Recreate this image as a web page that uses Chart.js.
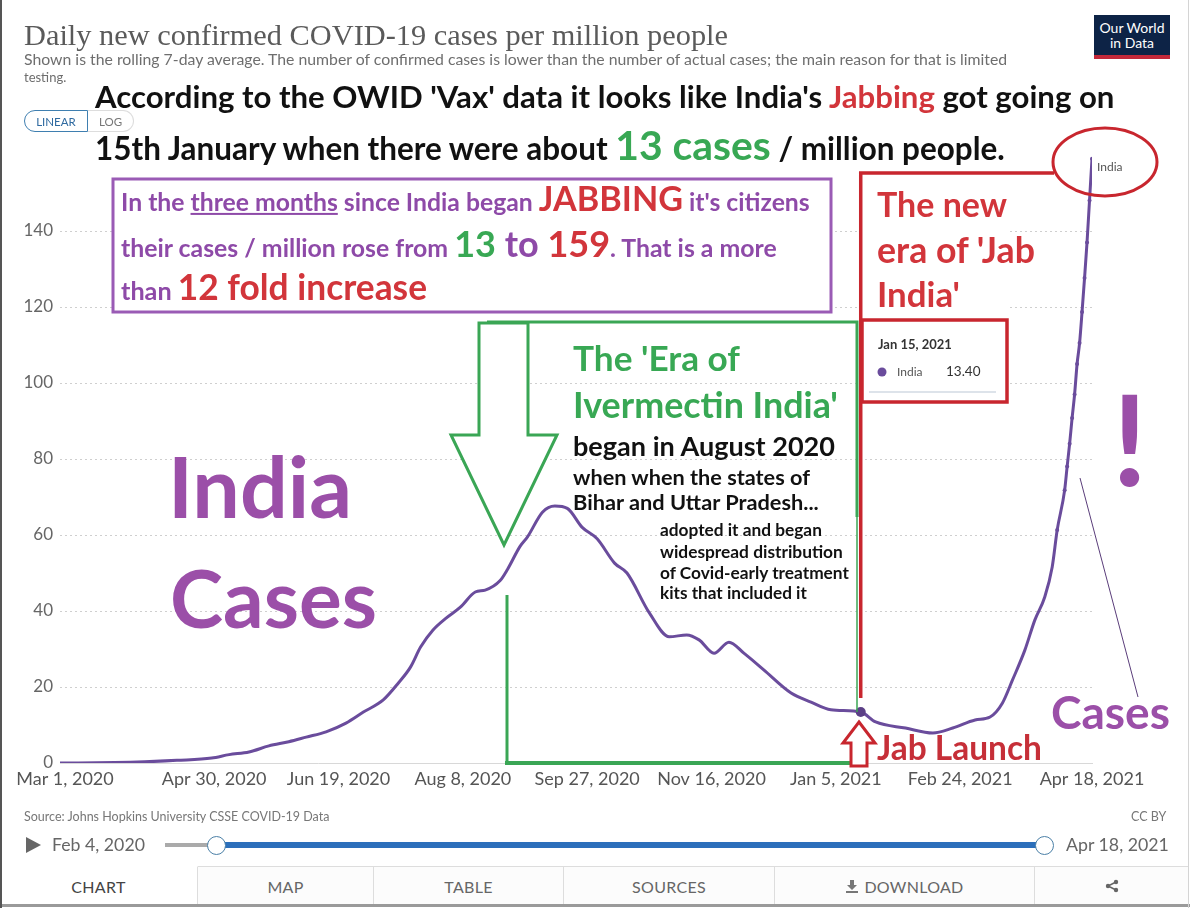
<!DOCTYPE html>
<html>
<head>
<meta charset="utf-8">
<script src="https://cdn.jsdelivr.net/npm/chart.js@4.4.1/dist/chart.umd.min.js"></script>
<style>
  body { margin: 0; background: #fff; }
  #page { position: relative; width: 1200px; height: 908px; overflow: hidden; background: #fff; font-family: Lato, "Open Sans", sans-serif; }
  #c { position: absolute; left: 0; top: 0; }
  .t { position: absolute; white-space: nowrap; line-height: 1; font-weight: 700; }
  .p { color: #8e4aa8; }
  .r { color: #d2353b; }
  .g { color: #38a854; }
  .k { color: #111; }
  .tab { position: absolute; top: 866px; height: 39px; border-top: 1px solid #ddd; border-right: 1px solid #ddd;
         display: flex; align-items: center; justify-content: center; font-size: 16px; color: #666; letter-spacing: 0.3px; box-sizing: border-box; background: #fcfcfc; }
</style>
</head>
<body>
<div id="page">
  <canvas id="c" width="1200" height="908" style="width:1200px;height:908px"></canvas>

  <!-- OWID header -->
  <div class="t" data-x="24" data-y="35" data-w="704" style="font-family:'Liberation Serif',serif;font-weight:400;color:#5a5a5a;font-size:28px">Daily new confirmed COVID-19 cases per million people</div>
  <div class="t" data-x="24" data-y="59" data-w="984" style="font-weight:400;color:#6e6e6e;font-size:13px">Shown is the rolling 7-day average. The number of confirmed cases is lower than the number of actual cases; the main reason for that is limited</div>
  <div class="t" data-x="24" data-y="77" style="font-weight:400;color:#6e6e6e;font-size:13px">testing.</div>
  <div style="position:absolute;left:1094px;top:15px;width:76px;height:44px;background:#0d2346;border-bottom:4px solid #c3283a;box-sizing:border-box;color:#fff;font-size:14px;line-height:15px;text-align:center;padding-top:5px">Our World<br>in Data</div>

  <div style="position:absolute;left:24px;top:110px;width:64px;height:22px;border:1.5px solid #3f7fb0;border-radius:11px 0 0 11px;box-sizing:border-box;color:#2f6aa0;font-size:11.5px;display:flex;align-items:center;justify-content:center">LINEAR</div>
  <div style="position:absolute;left:88px;top:110px;width:46px;height:22px;border:1px solid #ddd;border-left:none;border-radius:0 11px 11px 0;box-sizing:border-box;color:#777;font-size:11.5px;display:flex;align-items:center;justify-content:center">LOG</div>

  <!-- headline annotation -->
  <div class="t k" data-x="95" data-y="97" data-w="1020">According to the OWID 'Vax' data it looks like India's <span class="r">Jabbing</span> got going on</div>
  <div class="t k" data-x="95" data-y="145" data-w="910">15th January when there were about <span class="g" style="font-size:1.3em">13 cases</span> / million people.</div>

  <!-- purple box text -->
  <div class="t p" data-x="121" data-y="198" data-w="689">In the <u>three months</u> since India began <span class="r" style="font-size:1.38em">JABBING</span> it's citizens</div>
  <div class="t p" data-x="121" data-y="243" data-w="656">their cases / million rose from <span class="g" style="font-size:1.45em">13</span><span style="font-size:1.45em"> to </span><span class="r" style="font-size:1.45em">159</span>. That is a more</div>
  <div class="t p" data-x="121" data-y="287" data-w="306">than <span class="r" style="font-size:1.4em">12 fold increase</span></div>

  <!-- green era text -->
  <div class="t g" data-x="573" data-y="358" data-w="167">The 'Era of</div>
  <div class="t g" data-x="573" data-y="405" data-w="265">Ivermectin India'</div>
  <div class="t k" data-x="573" data-y="446" data-w="262">began in August 2020</div>
  <div class="t k" data-x="573" data-y="478" data-w="237">when when the states of</div>
  <div class="t k" data-x="573" data-y="503" data-w="246">Bihar and Uttar Pradesh...</div>
  <div class="t k" data-x="660" data-y="530" data-w="162">adopted it and began</div>
  <div class="t k" data-x="660" data-y="552" data-w="183">widespread distribution</div>
  <div class="t k" data-x="660" data-y="573" data-w="189">of Covid-early treatment</div>
  <div class="t k" data-x="660" data-y="593" data-w="147">kits that included it</div>

  <!-- red jab text -->
  <div class="t r" data-x="877" data-y="204" data-w="130">The new</div>
  <div class="t r" data-x="877" data-y="250" data-w="158">era of 'Jab</div>
  <div class="t r" data-x="877" data-y="294" data-w="83">India'</div>
  <div class="t" data-x="878" data-y="344" style="font-size:13px;color:#333">Jan 15, 2021</div>
  <div class="t" data-x="897" data-y="372" style="font-size:12px;font-weight:400;color:#555">India</div>
  <div class="t" data-x="946" data-y="372" style="font-size:13.5px;font-weight:400;color:#333">13.40</div>
  <div class="t r" data-x="877" data-y="748" data-w="165" style="color:#c62f38">Jab Launch</div>

  <!-- purple labels -->
  <div class="t p" data-x="168" data-y="486" data-w="184" style="color:#9b4fa8">India</div>
  <div class="t p" data-x="170" data-y="597" data-w="207" style="color:#9b4fa8">Cases</div>
  <div class="t p" data-x="1112" data-y="438" style="color:#9b4fa8;font-size:126px">!</div>
  <div class="t p" data-x="1051" data-y="712" data-w="119" style="color:#9b4fa8">Cases</div>

  <!-- footer -->
  <div class="t" data-x="24" data-y="817" style="font-size:12.5px;font-weight:400;color:#777">Source: Johns Hopkins University CSSE COVID-19 Data</div>
  <div class="t" data-x="1131" data-y="817" style="font-size:12.5px;font-weight:400;color:#777">CC BY</div>
  <div style="position:absolute;left:26px;top:837px;width:0;height:0;border-top:8px solid transparent;border-bottom:8px solid transparent;border-left:15px solid #666"></div>
  <div class="t" data-x="52" data-y="845" data-w="93" style="font-weight:400;color:#666;font-size:18px">Feb 4, 2020</div>
  <div style="position:absolute;left:165px;top:843px;width:52px;height:4px;background:#aaa"></div>
  <div style="position:absolute;left:217px;top:842px;width:827px;height:6px;background:#2c6fbb"></div>
  <div style="position:absolute;left:207px;top:836px;width:17px;height:17px;border-radius:50%;background:#fff;border:1.5px solid #4a7fa6"></div>
  <div style="position:absolute;left:1035px;top:836px;width:17px;height:17px;border-radius:50%;background:#fff;border:1.5px solid #4a7fa6"></div>
  <div class="t" data-x="1066" data-y="845" data-w="103" style="font-weight:400;color:#666;font-size:18px">Apr 18, 2021</div>

  <div class="tab" style="left:0;width:198px;border-top-color:transparent;background:#fff;color:#444">CHART</div>
  <div class="tab" style="left:198px;width:176px">MAP</div>
  <div class="tab" style="left:374px;width:190px">TABLE</div>
  <div class="tab" style="left:564px;width:211px">SOURCES</div>
  <div class="tab" style="left:775px;width:260px"><svg width="14" height="14" viewBox="0 0 14 14" style="margin-right:5px"><path d="M5 1h4v5h3l-5 5-5-5h3z" fill="#777"/><rect x="1" y="12" width="12" height="2" fill="#777"/></svg>DOWNLOAD</div>
  <div class="tab" style="left:1035px;width:154px"><svg width="14" height="14" viewBox="0 0 14 14"><circle cx="11" cy="3" r="2.2" fill="#666"/><circle cx="3" cy="7" r="2.2" fill="#666"/><circle cx="11" cy="11" r="2.2" fill="#666"/><path d="M11 3L3 7l8 4" stroke="#666" stroke-width="1.5" fill="none"/></svg></div>
  <div style="position:absolute;left:0;top:904px;width:1190px;height:3px;background:#9a9a9a"></div>
  <div style="position:absolute;left:0;top:0;width:2px;height:908px;background:#555"></div>
  <div style="position:absolute;left:1188px;top:0;width:1px;height:908px;background:#d4d4d4"></div>
</div>

<script>
// rolling 7-day average, India, new confirmed cases per million
const dates = [
  '2020-02-28','2020-03-21','2020-04-02','2020-04-15','2020-04-29','2020-05-06','2020-05-14','2020-05-22',
  '2020-05-30','2020-06-06','2020-06-14','2020-06-22','2020-06-29','2020-07-07','2020-07-13','2020-07-18',
  '2020-07-22','2020-07-27','2020-08-01','2020-08-07','2020-08-13','2020-08-17','2020-08-23','2020-08-26',
  '2020-08-31','2020-09-03','2020-09-09','2020-09-14','2020-09-19','2020-09-25','2020-10-01','2020-10-08',
  '2020-10-13','2020-10-22','2020-10-30','2020-11-06','2020-11-11','2020-11-17','2020-11-23','2020-11-29',
  '2020-12-07','2020-12-18','2020-12-26','2021-01-03','2021-01-15','2021-01-21','2021-02-02','2021-02-13',
  '2021-02-21','2021-03-02','2021-03-08','2021-03-13','2021-03-17','2021-03-22','2021-03-26','2021-03-30',
  '2021-04-02','2021-04-04','2021-04-07','2021-04-08','2021-04-09','2021-04-10','2021-04-11','2021-04-12',
  '2021-04-13','2021-04-14','2021-04-15','2021-04-16','2021-04-17','2021-04-18'
];
const cases = [
  0, 0.1, 0.3, 0.7, 1.3, 2.2, 2.9, 4.5,
  5.6, 6.8, 8.2, 10.5, 13.4, 16.6, 21, 25.3,
  30.5, 35, 38, 41, 45, 45.5, 48, 51,
  57, 59.5, 66, 67.6, 67, 62, 59, 52.6,
  50, 39.5, 33.2, 33.7, 32.4, 28.9, 31.8, 28.9,
  24.5, 18.4, 16, 14, 13.4, 10.8, 9.2, 7.9,
  9.2, 11.3, 12.1, 15.8, 21.8, 29.7, 37.6, 43.7,
  51.6, 61.3, 71.8, 78, 84, 90.8, 97, 105,
  110.5, 118.7, 127.6, 137, 148, 159
];
const tickDates = ['2020-03-01','2020-04-30','2020-06-19','2020-08-08','2020-09-27','2020-11-16','2021-01-05','2021-02-24','2021-04-18'];
const tickLabels = ['Mar 1, 2020','Apr 30, 2020','Jun 19, 2020','Aug 8, 2020','Sep 27, 2020','Nov 16, 2020','Jan 5, 2021','Feb 24, 2021','Apr 18, 2021'];
const yTicks = [0, 20, 40, 60, 80, 100, 120, 140];
const jabDate = '2021-01-15';

const dayOf = d => Math.round((Date.parse(d) - Date.parse('2020-03-01')) / 864e5);
const points = dates.map((d, i) => ({ x: dayOf(d), y: cases[i] }));
const tickDays = tickDates.map(dayOf);
const jabDay = dayOf(jabDate);
const lastDay = dayOf(dates[dates.length - 1]);

function stroke(c, pts, close) {
  c.beginPath();
  pts.forEach((p, i) => i ? c.lineTo(p[0], p[1]) : c.moveTo(p[0], p[1]));
  if (close) c.closePath();
}

// dotted horizontal grid, and the white pasted-over panels
const backdrop = {
  id: 'backdrop',
  beforeDatasetsDraw(chart) {
    const c = chart.ctx, ys = chart.scales.y, a = chart.chartArea;
    c.save();
    c.strokeStyle = '#cfcfcf'; c.lineWidth = 1; c.setLineDash([2, 3]);
    yTicks.slice(1).forEach(v => {
      const y = Math.round(ys.getPixelForValue(v)) + 0.5;
      stroke(c, [[a.left, y], [a.right, y]]); c.stroke();
    });
    c.setLineDash([]);
    c.fillStyle = '#fff';
    c.fillRect(113, 179, 718, 133);
    c.fillRect(864, 176, 144, 142);
    c.restore();
  }
};

const annotations = {
  id: 'annotations',
  afterDatasetsDraw(chart) {
    const c = chart.ctx, xs = chart.scales.x, ys = chart.scales.y;
    c.save();
    c.lineJoin = 'miter';

    // purple box
    c.strokeStyle = '#9a5bb5'; c.lineWidth = 3;
    c.strokeRect(113, 179, 718, 133);

    // green frame + arrow
    c.strokeStyle = '#3aa655'; c.lineWidth = 3;
    stroke(c, [[487, 322], [857, 322], [857, 517]]); c.stroke();
    c.lineWidth = 1.5; stroke(c, [[857, 517], [857, 712]]); c.stroke();
    c.lineWidth = 4; stroke(c, [[505, 763], [852, 763]]); c.stroke();
    c.lineWidth = 3; stroke(c, [[507, 595], [507, 763]]); c.stroke();
    stroke(c, [[479, 323], [528, 323], [528, 435], [557, 435], [504, 545], [451, 435], [479, 435]], true);
    c.fillStyle = '#fff'; c.fill(); c.stroke();

    // red jab era lines
    const jx = xs.getPixelForValue(jabDay);
    c.strokeStyle = '#c8262e'; c.lineWidth = 3.5;
    stroke(c, [[jx, 698], [jx, 173], [1054, 173]]); c.stroke();
    c.lineWidth = 3;
    c.beginPath(); c.ellipse(1105, 162, 52, 34, 0, 0, Math.PI * 2); c.stroke();

    // tooltip box
    c.fillStyle = '#fff'; c.fillRect(863, 321, 143, 80);
    c.strokeStyle = '#dde3ea'; c.lineWidth = 2;
    stroke(c, [[869, 392], [996, 392]]); c.stroke();
    c.fillStyle = '#6a4c9c';
    c.beginPath(); c.arc(882, 372, 4.5, 0, Math.PI * 2); c.fill();
    c.strokeStyle = '#c8262e'; c.lineWidth = 3.5;
    c.strokeRect(862, 320, 145, 82);

    // jab launch arrow
    c.lineWidth = 3;
    stroke(c, [[859, 722], [875, 743], [867, 743], [867, 766], [851, 766], [851, 743], [843, 743]], true);
    c.fillStyle = '#fff'; c.fill(); c.stroke();

    // pointer to the end of the series
    c.strokeStyle = '#5a3d7a'; c.lineWidth = 1;
    stroke(c, [[1080, 478], [1138, 697]]); c.stroke();

    // series label
    const lx = xs.getPixelForValue(lastDay), ly = ys.getPixelForValue(cases[cases.length - 1]);
    c.fillStyle = '#555'; c.font = '12px Lato'; c.textBaseline = 'middle';
    c.fillText('India', lx + 5, ly + 8);
    c.restore();
  }
};

new Chart(document.getElementById('c'), {
  type: 'line',
  data: {
    datasets: [{
      label: 'India',
      data: points,
      borderColor: '#6a4c9c',
      backgroundColor: '#6a4c9c',
      borderWidth: 3,
      cubicInterpolationMode: 'monotone',
      pointRadius: ctx => ctx.raw && ctx.raw.x === jabDay ? 5 : (ctx.raw && ctx.raw.x > 398 ? 2 : 0),
      pointBackgroundColor: ctx => ctx.raw && ctx.raw.x === jabDay ? '#5b3f86' : '#6a4c9c',
      pointBorderWidth: 0
    }]
  },
  options: {
    responsive: false,
    animation: false,
    devicePixelRatio: 1,
    layout: { padding: { top: 155, right: 108, left: 0, bottom: 0 } },
    plugins: { legend: { display: false }, tooltip: { enabled: false } },
    scales: {
      x: {
        type: 'linear', min: -2, max: 413,
        afterBuildTicks: s => { s.ticks = tickDays.map(v => ({ value: v })); },
        afterFit: s => { s.height = 145; },
        ticks: {
          autoSkip: false, maxRotation: 0, padding: 5,
          color: '#555', font: { family: 'Lato', size: 18 },
          callback: v => tickLabels[tickDays.indexOf(v)]
        },
        grid: { display: false, drawTicks: false },
        border: { display: true, color: '#d8d8d8' }
      },
      y: {
        min: 0, max: 160,
        afterBuildTicks: s => { s.ticks = yTicks.map(v => ({ value: v })); },
        afterFit: s => { s.width = 60; },
        ticks: { padding: 7, color: '#666', font: { family: 'Lato', size: 17 } },
        grid: { display: false, drawTicks: false },
        border: { display: false }
      }
    }
  },
  plugins: [backdrop, annotations]
});

// place the annotation texts; fit widths where a target width is given
document.querySelectorAll('.t').forEach(el => {
  const w = +el.dataset.w;
  if (w) {
    const base = parseFloat(getComputedStyle(el).fontSize) || 30;
    el.style.fontSize = base + 'px';
    const m = el.getBoundingClientRect().width;
    el.style.fontSize = (base * w / m) + 'px';
  }
  el.style.left = el.dataset.x + 'px';
  el.style.top = el.dataset.y + 'px';
  el.style.transform = 'translateY(-50%)';
});
</script>
</body>
</html>
